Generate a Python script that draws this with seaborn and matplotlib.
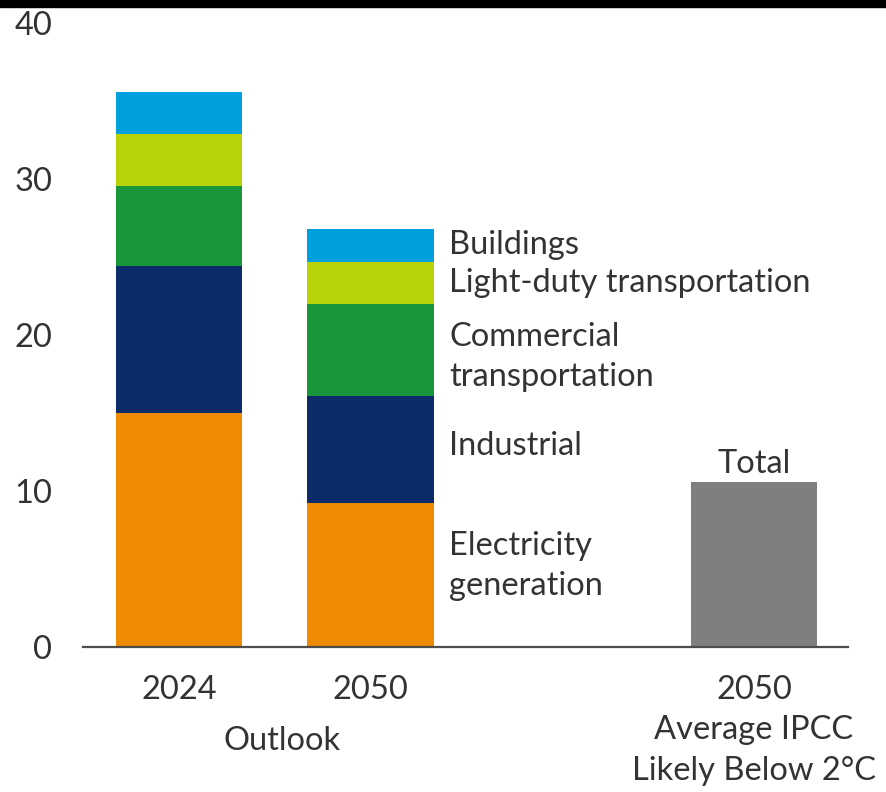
import matplotlib
matplotlib.use("Agg")
import matplotlib.pyplot as plt
import seaborn as sns
import pandas as pd
import numpy as np
from matplotlib.patches import Rectangle

# ---- data ----
bar_keys = ["2024", "2050", "gap", "IPCC"]
sectors = ["Electricity generation", "Industrial", "Commercial transportation",
           "Light-duty transportation", "Buildings"]
outlook_2024 = [15.0, 9.4, 5.15, 3.35, 2.7]
outlook_2050 = [9.2, 6.9, 5.9, 2.7, 2.1]
ipcc_total = 10.6
sector_labels = ["Electricity\ngeneration", "Industrial", "Commercial\ntransportation",
                 "Light-duty transportation", "Buildings"]
sector_colors = ["#EE8B00", "#0B2C69", "#18973A", "#B8D30A", "#00A0DF"]
total_color = "#7F7F7F"
tick_labels = ["2024", "2050", "2050\nAverage IPCC\nLikely Below 2°C"]
group_label = "Outlook"

sns.set_theme(style="white")
plt.rcParams["font.family"] = ["Lato", "DejaVu Sans"]
text_color = "#333333"
fs = 23.5

fig = plt.figure(figsize=(8.87, 7.92), dpi=100)
ax = fig.add_axes([83/887, 1-647/792, (848-83)/887, (647-23)/792])

# stacked bars: draw cumulative totals from the top down
cum24 = np.cumsum(outlook_2024)
cum50 = np.cumsum(outlook_2050)
for i in range(len(sectors) - 1, -1, -1):
    df = pd.DataFrame({"key": ["2024", "2050"], "value": [cum24[i], cum50[i]]})
    sns.barplot(data=df, x="key", y="value", order=bar_keys, color=sector_colors[i],
                saturation=1, width=0.66, ax=ax, errorbar=None, linewidth=0)
df_t = pd.DataFrame({"key": ["IPCC"], "value": [ipcc_total]})
sns.barplot(data=df_t, x="key", y="value", order=bar_keys, color=total_color,
            saturation=1, width=0.66, ax=ax, errorbar=None, linewidth=0)

ax.set_xlim(-0.5, 3.49)
ax.set_ylim(0, 40)
ax.set_yticks([0, 10, 20, 30, 40])
ax.set_xticks([0, 1, 3])
ax.set_xticklabels(tick_labels, linespacing=1.44)
ax.set_xlabel("")
ax.set_ylabel("")
ax.tick_params(axis="y", length=0, pad=22, labelsize=fs, labelcolor=text_color)
ax.tick_params(axis="x", length=0, pad=20, labelsize=fs, labelcolor=text_color)
for s in ["top", "right", "left"]:
    ax.spines[s].set_visible(False)
ax.spines["bottom"].set_color("#4D4D4D")
ax.spines["bottom"].set_linewidth(1.6)

# segment labels beside 2050 bar
offsets = [0.6, 0.25, -0.45, 0.0, 0.0]
bottoms = np.concatenate([[0], cum50[:-1]])
for i, lab in enumerate(sector_labels):
    mid = (bottoms[i] + cum50[i]) / 2 + offsets[i]
    ax.text(1.41, mid, lab, ha="left", va="center", fontsize=fs,
            color=text_color, linespacing=1.4)

ax.text(3, ipcc_total + 0.55, "Total", ha="center", va="baseline", fontsize=fs,
        color=text_color)

# group label
ax.text(0.54, -0.1506, group_label, transform=ax.get_xaxis_transform(),
        ha="center", va="center", fontsize=fs, color=text_color)

# black strip at top
fig.patches.append(Rectangle((0, 1 - 7/792), 1, 7/792, transform=fig.transFigure,
                             color="black", zorder=10))

fig.savefig("out.png", dpi=100)
